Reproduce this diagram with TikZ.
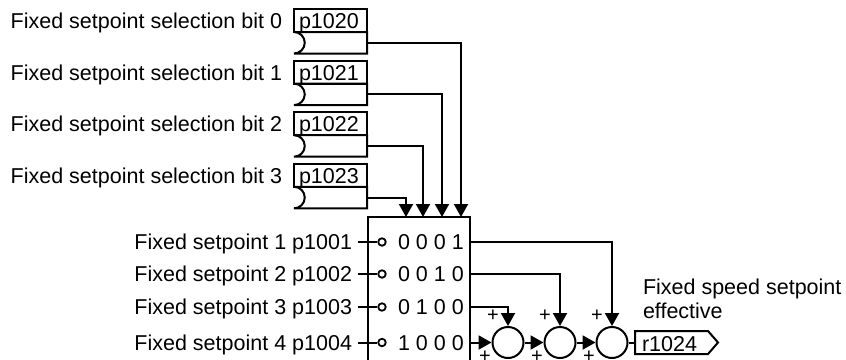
\documentclass[tikz,border=0pt]{standalone}
\usepackage{fontspec}
\setmainfont{Liberation Sans}
\usetikzlibrary{arrows.meta}
\begin{document}
\begin{tikzpicture}[x=1pt,y=-1pt,line width=2pt,
  txt/.style={inner sep=0pt,font=\fontsize{21.5}{25}\selectfont},
  plus/.style={inner sep=0pt,font=\fontsize{20}{20}\selectfont},
  arr/.style={-{Triangle[length=13pt,width=14pt]}},
  sumc/.style={draw,circle,minimum size=31pt,inner sep=0pt},
  tap/.style={draw,circle,minimum size=7.5pt,inner sep=0pt,line width=1.8pt}]
\clip (0,0) rectangle (846,359);
% parameter blocks
\foreach \i/\num/\xc in {0/1020/461,1/1021/442,2/1022/423,3/1023/406}{
  \pgfmathsetmacro\tp{9+51.6*\i}
  \pgfmathsetmacro\dv{\tp+23}
  \pgfmathsetmacro\bt{\tp+44.5}
  \pgfmathsetmacro\md{\tp+33.75}
  \draw (294,\tp) rectangle (367,\dv);
  \draw (294,\dv) -- (367,\dv) -- (367,\bt) -- (294,\bt)
        arc[start angle=90,end angle=-90,radius=10.75];
  \node[txt,anchor=base east] (lab\i) at (283,\tp+19.5) {Fixed setpoint selection bit \i};
  \node[txt,anchor=base west] (par\i) at (298,\tp+19.5) {p\num};
  \coordinate (q\i) at (367,\md);
  \coordinate (in\i) at (\xc,217);
  \draw[arr] (q\i) -| (in\i);
}
% selection box
\draw (368,217) rectangle (470,400);
% rows
\foreach \j/\y/\code in {1/242/{0 0 0 1},2/274/{0 0 1 0},3/307/{0 1 0 0},4/342.5/{1 0 0 0}}{
  \node[txt,anchor=base east] (fs\j) at (353,\y+7.5) {Fixed setpoint \j\ p100\j};
  \node[tap] (t\j) at (382,\y) {};
  \coordinate (ts\j) at (358,\y);
  \draw (ts\j) -- (t\j.west);
  \node[txt,anchor=base west] (code\j) at (397,\y+7.5) {\code};
  \coordinate (o\j) at (470,\y);
}
% summation points
\node[sumc] (s1) at (508,342.5) {};
\node[sumc] (s2) at (560,342.5) {};
\node[sumc] (s3) at (612,342.5) {};
\draw[arr] (o4) -- (s1.west);
\draw[arr] (s1.east) -- (s2.west);
\draw[arr] (s2.east) -- (s3.west);
\draw[arr] (o3) -| (s1.north);
\draw[arr] (o2) -| (s2.north);
\draw[arr] (o1) -| (s3.north);
\foreach \k/\x in {1/508,2/560,3/612}{
  \node[plus] (pt\k) at (\x-15,315.5) {+};
  \node[plus] (pb\k) at (\x-23,357) {+};
}
% output
\draw (635,331) -- (708,331) -- (718,342.5) -- (708,354) -- (635,354) -- cycle;
\coordinate (outl) at (635,342.5);
\draw (s3.east) -- (outl);
\node[txt,anchor=base west] (outn) at (641,351) {r1024};
\node[txt,anchor=base west] (eff1) at (642,294) {Fixed speed setpoint};
\node[txt,anchor=base west] (eff2) at (642,318.5) {effective};
\end{tikzpicture}
\end{document}
